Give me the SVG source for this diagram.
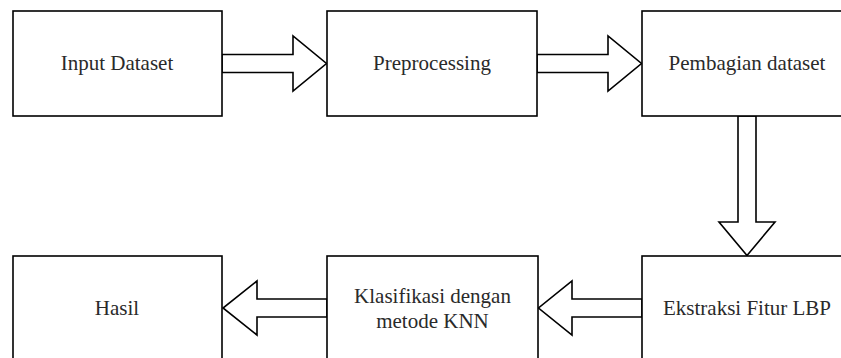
<svg xmlns="http://www.w3.org/2000/svg" width="841" height="358" viewBox="0 0 841 358">
<style>
.box{fill:#fff;stroke:#000;stroke-width:1.6}
.arr{fill:#fff;stroke:#000;stroke-width:1.6;stroke-linejoin:miter}
.lbl{font-family:"Liberation Serif","Times New Roman",serif;font-size:21px;fill:#2a2a2a;text-anchor:middle}
</style>
<rect width="841" height="358" fill="#fff"/>
<g id="connectors">
<path class="arr" d="M222,54.5 H293 V36 L326.5,63.5 L293,91 V72.5 H222 Z"/>
<path class="arr" d="M537,54.5 H608 V36 L641.5,63.5 L608,91 V72.5 H537 Z"/>
<path class="arr" d="M738,116 V222 H719 L747,255.5 L775,222 H756 V116 Z"/>
<path class="arr" d="M642,299 H572 V281 L538.5,308 L572,335 V317 H642 Z"/>
<path class="arr" d="M327,299 H257 V281 L223,308 L257,335 V317 H327 Z"/>
</g>
<g id="node-input">
<rect class="box" x="13" y="11" width="209" height="105"/>
<text class="lbl" x="117" y="70">Input Dataset</text>
</g>
<g id="node-preprocessing">
<rect class="box" x="327" y="11" width="210" height="105"/>
<text class="lbl" x="432" y="70">Preprocessing</text>
</g>
<g id="node-pembagian">
<rect class="box" x="642" y="11" width="210" height="105"/>
<text class="lbl" x="747" y="70">Pembagian dataset</text>
</g>
<g id="node-ekstraksi">
<rect class="box" x="642" y="256" width="210" height="105"/>
<text class="lbl" x="747" y="315">Ekstraksi Fitur LBP</text>
</g>
<g id="node-klasifikasi">
<rect class="box" x="327" y="256" width="211" height="105"/>
<text class="lbl" x="432.5" y="303">Klasifikasi dengan</text>
<text class="lbl" x="432.5" y="328">metode KNN</text>
</g>
<g id="node-hasil">
<rect class="box" x="13" y="256" width="209" height="105"/>
<text class="lbl" x="117" y="315">Hasil</text>
</g>
</svg>
